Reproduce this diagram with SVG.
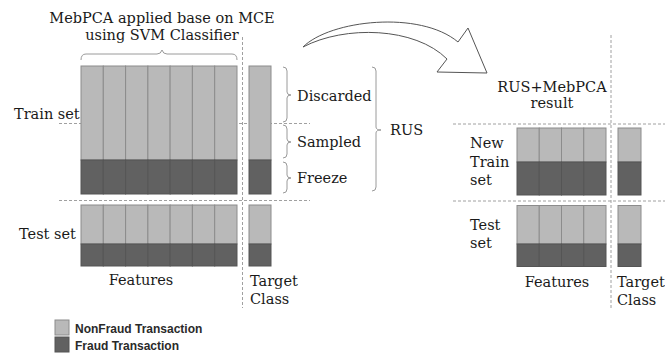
<svg xmlns="http://www.w3.org/2000/svg" width="665" height="354" viewBox="0 0 665 354">
<style>
.bg{fill:#ffffff}
.l{fill:#b9b9b9;stroke:#8c8c8c;stroke-width:1}
.d{fill:#616161;stroke:#555555;stroke-width:1}
.t{font-family:"DejaVu Serif","Liberation Serif",serif;font-size:14.5px;fill:#1a1a1a}
.c{text-anchor:middle}
.lg{font-family:"Liberation Sans",Arial,sans-serif;font-weight:bold;font-size:12px;fill:#2a2a2a}
.dash{fill:none;stroke:#a0a0a0;stroke-width:1;stroke-dasharray:3,2}
.br{fill:none;stroke:#9a9a9a;stroke-width:1}
.arrow{fill:#ffffff;stroke:#555555;stroke-width:1;stroke-linejoin:miter}
</style>
<rect class="bg" x="0" y="0" width="665" height="354"/>

<g id="connectors">
  <line class="dash" x1="242.5" y1="37" x2="242.5" y2="308"/>
  <line class="dash" x1="59" y1="123.5" x2="310" y2="123.5"/>
  <line class="dash" x1="59" y1="200.5" x2="310" y2="200.5"/>
  <line class="dash" x1="611" y1="35" x2="611" y2="308"/>
  <line class="dash" x1="453" y1="124" x2="665" y2="124"/>
  <line class="dash" x1="453" y1="201" x2="665" y2="201"/>
  <path class="br" d="M81,60 Q81,54 86,54 L157,54 Q161,54 162,50 Q163,54 167,54 L232,54 Q237,54 237,60"/>
  <path class="br" d="M283,67 Q287,67 287,71 L287,92 Q287,95 291,95 Q287,95 287,98 L287,118 Q287,122 283,122"/>
  <path class="br" d="M283,125 Q287,125 287,129 L287,139 Q287,142 291,142 Q287,142 287,145 L287,154 Q287,158 283,158"/>
  <path class="br" d="M283,162 Q287,162 287,166 L287,175 Q287,178 291,178 Q287,178 287,181 L287,189 Q287,193 283,193"/>
  <path class="br" d="M372,67 Q376,67 376,71 L376,127 Q376,130 381,130 Q376,130 376,133 L376,187 Q376,191 372,191"/>
  <path class="arrow" d="M303,47 C330,20 420,10 458,42 L468,28 L487,73 L437,72 L447,59 C415,27 345,25 303,47 Z"/>
</g>

<g id="title">
  <text class="t c" x="162" y="23">MebPCA applied base on MCE</text>
  <text class="t c" x="162" y="40">using SVM Classifier</text>
</g>

<g id="train-left">
  <rect class="l" x="81" y="66" width="22.3" height="94"/>
  <rect class="l" x="103.3" y="66" width="22.3" height="94"/>
  <rect class="l" x="125.6" y="66" width="22.3" height="94"/>
  <rect class="l" x="147.9" y="66" width="22.3" height="94"/>
  <rect class="l" x="170.1" y="66" width="22.3" height="94"/>
  <rect class="l" x="192.4" y="66" width="22.3" height="94"/>
  <rect class="l" x="214.7" y="66" width="22.3" height="94"/>
  <rect class="d" x="81" y="160" width="22.3" height="34"/>
  <rect class="d" x="103.3" y="160" width="22.3" height="34"/>
  <rect class="d" x="125.6" y="160" width="22.3" height="34"/>
  <rect class="d" x="147.9" y="160" width="22.3" height="34"/>
  <rect class="d" x="170.1" y="160" width="22.3" height="34"/>
  <rect class="d" x="192.4" y="160" width="22.3" height="34"/>
  <rect class="d" x="214.7" y="160" width="22.3" height="34"/>
  <rect class="l" x="249" y="66" width="22" height="94"/>
  <rect class="d" x="249" y="160" width="22" height="34"/>
  <text class="t" x="14" y="119">Train set</text>
</g>

<g id="test-left">
  <rect class="l" x="81" y="205" width="22.3" height="39"/>
  <rect class="l" x="103.3" y="205" width="22.3" height="39"/>
  <rect class="l" x="125.6" y="205" width="22.3" height="39"/>
  <rect class="l" x="147.9" y="205" width="22.3" height="39"/>
  <rect class="l" x="170.1" y="205" width="22.3" height="39"/>
  <rect class="l" x="192.4" y="205" width="22.3" height="39"/>
  <rect class="l" x="214.7" y="205" width="22.3" height="39"/>
  <rect class="d" x="81" y="244" width="22.3" height="22"/>
  <rect class="d" x="103.3" y="244" width="22.3" height="22"/>
  <rect class="d" x="125.6" y="244" width="22.3" height="22"/>
  <rect class="d" x="147.9" y="244" width="22.3" height="22"/>
  <rect class="d" x="170.1" y="244" width="22.3" height="22"/>
  <rect class="d" x="192.4" y="244" width="22.3" height="22"/>
  <rect class="d" x="214.7" y="244" width="22.3" height="22"/>
  <rect class="l" x="249" y="205" width="22" height="39"/>
  <rect class="d" x="249" y="244" width="22" height="22"/>
  <text class="t" x="19" y="239">Test set</text>
</g>

<g id="labels-left">
  <text class="t c" x="141" y="285">Features</text>
  <text class="t" x="250" y="286">Target</text>
  <text class="t" x="250" y="304">Class</text>
  <text class="t" x="297" y="101">Discarded</text>
  <text class="t" x="297" y="147">Sampled</text>
  <text class="t" x="297" y="183">Freeze</text>
  <text class="t" x="390" y="135">RUS</text>
</g>

<g id="result-title">
  <text class="t c" x="552" y="92">RUS+MebPCA</text>
  <text class="t c" x="552" y="108">result</text>
</g>

<g id="train-right">
  <rect class="l" x="517" y="128" width="22.25" height="34"/>
  <rect class="l" x="539.25" y="128" width="22.25" height="34"/>
  <rect class="l" x="561.5" y="128" width="22.25" height="34"/>
  <rect class="l" x="583.75" y="128" width="22.25" height="34"/>
  <rect class="d" x="517" y="162" width="22.25" height="33"/>
  <rect class="d" x="539.25" y="162" width="22.25" height="33"/>
  <rect class="d" x="561.5" y="162" width="22.25" height="33"/>
  <rect class="d" x="583.75" y="162" width="22.25" height="33"/>
  <rect class="l" x="618" y="128" width="23" height="34"/>
  <rect class="d" x="618" y="162" width="23" height="33"/>
  <text class="t" x="470" y="148">New</text>
  <text class="t" x="470" y="167">Train</text>
  <text class="t" x="470" y="185">set</text>
</g>

<g id="test-right">
  <rect class="l" x="517" y="205.5" width="22.25" height="38.5"/>
  <rect class="l" x="539.25" y="205.5" width="22.25" height="38.5"/>
  <rect class="l" x="561.5" y="205.5" width="22.25" height="38.5"/>
  <rect class="l" x="583.75" y="205.5" width="22.25" height="38.5"/>
  <rect class="d" x="517" y="244" width="22.25" height="22.5"/>
  <rect class="d" x="539.25" y="244" width="22.25" height="22.5"/>
  <rect class="d" x="561.5" y="244" width="22.25" height="22.5"/>
  <rect class="d" x="583.75" y="244" width="22.25" height="22.5"/>
  <rect class="l" x="618" y="205.5" width="23" height="38.5"/>
  <rect class="d" x="618" y="244" width="23" height="22.5"/>
  <text class="t" x="470" y="230">Test</text>
  <text class="t" x="470" y="248">set</text>
</g>

<g id="labels-right">
  <text class="t c" x="557" y="287">Features</text>
  <text class="t" x="617" y="287">Target</text>
  <text class="t" x="617" y="305">Class</text>
</g>

<g id="legend">
  <rect class="l" x="55" y="320" width="14" height="15"/>
  <rect class="d" x="55" y="337" width="14" height="15"/>
  <text class="lg" x="75" y="333">NonFraud Transaction</text>
  <text class="lg" x="75" y="349.5">Fraud Transaction</text>
</g>
</svg>
